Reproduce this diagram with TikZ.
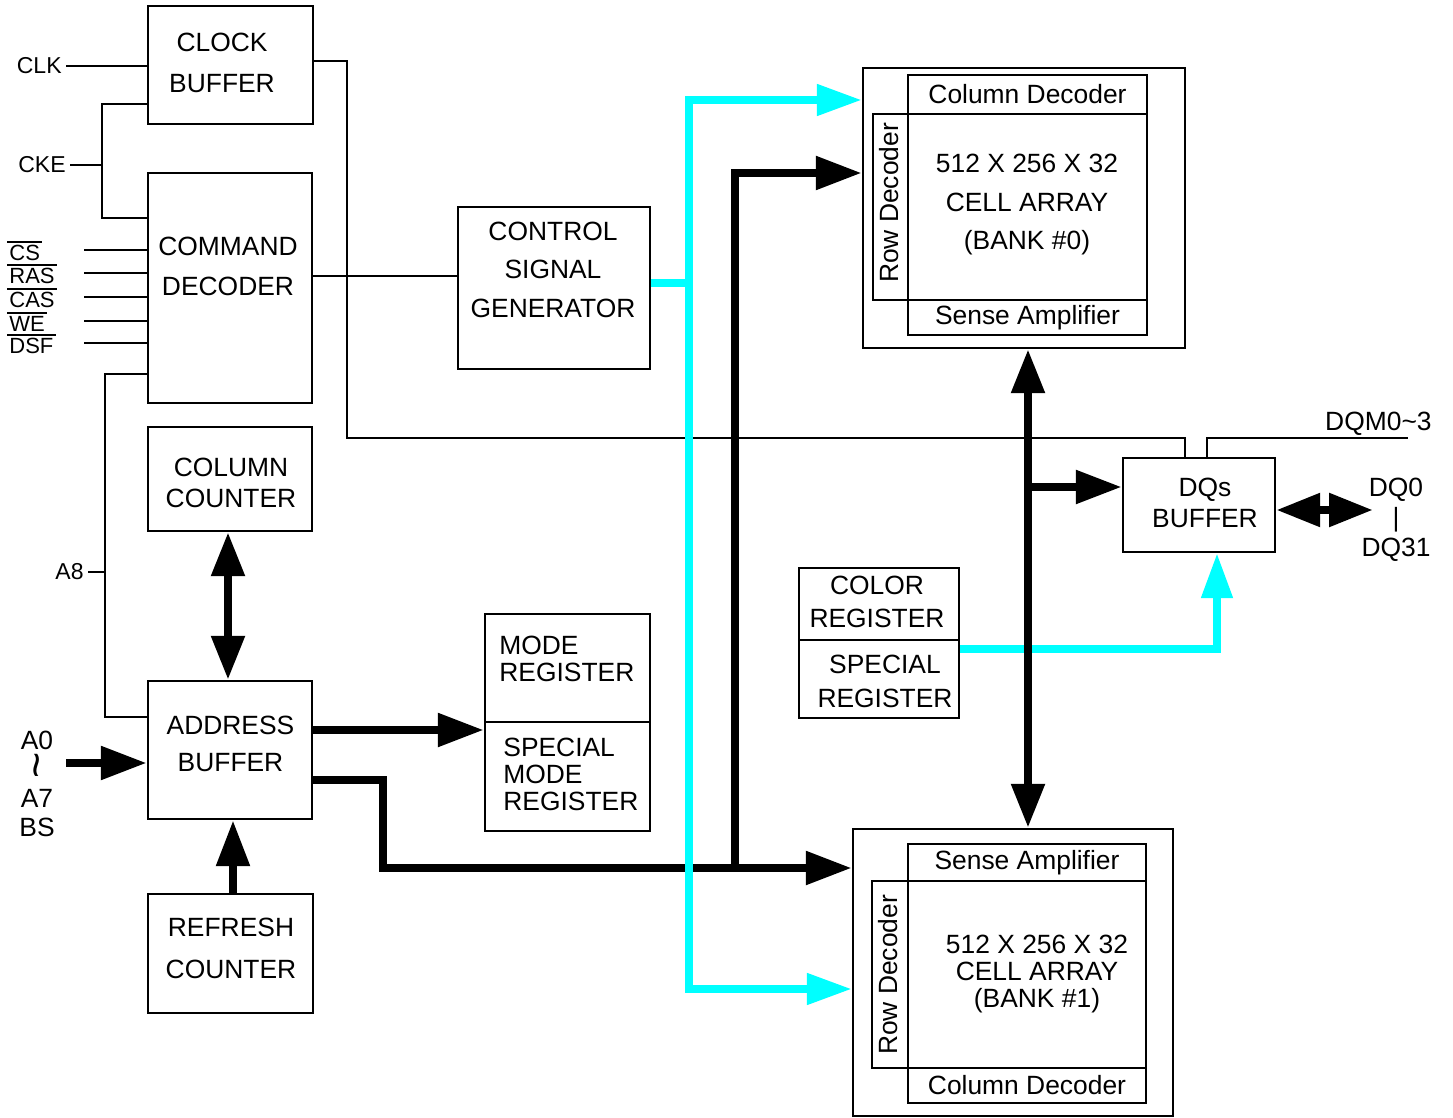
\documentclass[tikz,border=0pt]{standalone}
\usepackage{fontspec}
\setmainfont{Liberation Sans}
\usetikzlibrary{arrows.meta}
\definecolor{sigcyan}{RGB}{0,255,255}

\begin{document}
\begin{tikzpicture}[x=0.5pt,y=-0.5pt,
  blk/.style={draw,line width=1.2pt,inner sep=0pt},
  txt/.style={font=\fontsize{13.2pt}{#1}\selectfont,align=center,inner sep=0pt},
  txt/.default=16pt,
  lbl/.style={font=\fontsize{11.5pt}{14pt}\selectfont,inner sep=2pt},
  sig/.style={font=\fontsize{11pt}{12pt}\selectfont,inner sep=0pt,anchor=west},
  wire/.style={line width=1pt},
  bus/.style={line width=4.25pt,-{Triangle[length=23pt,width=16pt]}},
  dbus/.style={line width=4.25pt,{Triangle[length=22pt,width=16pt]}-{Triangle[length=22pt,width=16pt]}},
  cline/.style={line width=4pt,draw=sigcyan},
  cbus/.style={cline,-{Triangle[length=22.5pt,width=15pt]}},
  dcbus/.style={cline,{Triangle[length=22.5pt,width=15pt]}-{Triangle[length=22.5pt,width=15pt]}}]
\useasboundingbox (0,0) rectangle (1453,1118);

% Blocos da esquerda
\node[blk,minimum width=82.5pt,minimum height=59pt] (clkbuf) at (230.5,65) {};
\node[txt=20.5pt] (clkbuft) at (222,62.5) {CLOCK\\BUFFER};
\node[blk,minimum width=82pt,minimum height=115pt] (cmddec) at (230,288) {};
\node[txt=20pt] (cmddect) at (228,266) {COMMAND\\DECODER};
\node[blk,minimum width=82pt,minimum height=52pt] (colcnt) at (230,479) {};
\node[txt=15.5pt] (colcntt) at (231,482.5) {COLUMN\\COUNTER};
\node[blk,minimum width=82pt,minimum height=69pt] (addrbuf) at (230,750) {};
\node[txt=18.5pt] (addrbuft) at (230.5,743.5) {ADDRESS\\BUFFER};
\node[blk,minimum width=82.5pt,minimum height=59.5pt] (refcnt) at (230.5,953.5) {};
\node[txt=21pt] (refcntt) at (231,948) {REFRESH\\COUNTER};

% Blocos do meio
\node[blk,minimum width=96pt,minimum height=81pt] (ctrlgen) at (554,288) {};
\node[txt=19.25pt] (ctrlgent) at (553,269.5) {CONTROL\\SIGNAL\\GENERATOR};
\node[blk,minimum width=82.5pt,minimum height=54pt] (modereg) at (567.5,668) {};
\node[txt=13.5pt,align=left,anchor=west] (moderegt) at (499,658.5) {MODE\\REGISTER};
\node[blk,minimum width=82.5pt,minimum height=54.5pt] (smodereg) at (567.5,776.5) {};
\node[txt=13.5pt,align=left,anchor=west] (smoderegt) at (503,774) {SPECIAL\\MODE\\REGISTER};
\node[blk,minimum width=80pt,minimum height=36pt] (colorreg) at (879,604) {};
\node[txt=16.5pt] (colorregt) at (877,601.5) {COLOR\\REGISTER};
\node[blk,minimum width=80pt,minimum height=39pt] (specreg) at (879,679) {};
\node[txt=17pt] (specregt) at (885,681) {SPECIAL\\REGISTER};
\node[blk,minimum width=76pt,minimum height=47pt] (dqbuf) at (1199,505) {};
\node[txt=15.5pt] (dqbuft) at (1205,502.5) {DQs\\BUFFER};

% Banco 0
\node[blk,minimum width=161pt,minimum height=140pt] (bank0) at (1024,208) {};
\node[blk,txt,minimum width=119.5pt,minimum height=19.5pt] (cd0) at (1027.5,94.5) {Column Decoder};
\node[blk,minimum width=119.5pt,minimum height=93pt] (ca0) at (1027.5,207) {};
\node[txt=19.25pt] (ca0t) at (1027,205) {512 X 256 X 32\\CELL ARRAY\\(BANK \#0)};
\node[blk,txt,minimum width=119.5pt,minimum height=17.5pt] (sa0) at (1027.5,317.5) {Sense Amplifier};
\node[blk,minimum width=17.5pt,minimum height=93pt] (rd0) at (890.5,207) {};
\node[txt,rotate=90] (rd0t) at (889,203) {Row Decoder};

% Banco 1
\node[blk,minimum width=160pt,minimum height=143.5pt] (bank1) at (1013,972.5) {};
\node[blk,txt,minimum width=119pt,minimum height=18.5pt] (sa1) at (1027,862.5) {Sense Amplifier};
\node[blk,minimum width=119pt,minimum height=93.5pt] (ca1) at (1027,974.5) {};
\node[txt=13.5pt] (ca1t) at (1037,974) {512 X 256 X 32\\CELL ARRAY\\(BANK \#1)};
\node[blk,txt,minimum width=119pt,minimum height=17.5pt] (cd1) at (1027,1085.5) {Column Decoder};
\node[blk,minimum width=18pt,minimum height=93.5pt] (rd1) at (890,974.5) {};
\node[txt,rotate=90] (rd1t) at (888,975) {Row Decoder};

% Entradas
\node[lbl,anchor=east] (clk) at (66,66) {CLK};
\node[lbl,anchor=east] (cke) at (70,165) {CKE};
\node[lbl,anchor=east] (a8) at (88,572) {A8};
\node[txt=14.5pt] (addrin) at (37,784) {A0\\\kern6pt\scalebox{1.7}{\rotatebox{90}{\textasciitilde}}\\A7\\BS};
\node[txt,anchor=base east] (dqm) at (1432,431) {DQM0\textasciitilde 3};
\node[txt=15pt] (dqt) at (1396,520) {DQ0\\|\\DQ31};
\foreach \s/\y in {CS/250,RAS/273,CAS/297,WE/321,DSF/343} {
  \node[sig] (\s) at (9,\y+3) {\s};
  \draw[line width=0.9pt] ([xshift=-1pt,yshift=1.6pt]\s.north west) -- ([xshift=1pt,yshift=1.6pt]\s.north east);
  \coordinate (\s in) at (84,\y);
  \draw[wire] (\s in) -- (cmddec.west |- \s in);
}

% Fios finos
\coordinate (ckej) at (102,165);
\coordinate (a8j) at (105,572);
\coordinate (dqmj) at (1408,438);
\draw[wire] (clk) -- (clkbuf.west |- clk);
\draw[wire] (cke) -- (ckej);
\draw[wire] (clkbuf.west |- 0,104) -| (ckej) |- (cmddec.west |- 0,218);
\draw[wire] (a8) -- (a8j);
\draw[wire] (cmddec.west |- 0,374) -| (a8j) |- (addrbuf.west |- 0,717);
\draw[wire] (cmddec.east |- 0,276) -- (ctrlgen.west |- 0,276);
\draw[wire] (clkbuf.east |- 0,61) -| (347,438) -| (dqbuf.north -| 1185,0);
\draw[wire] (dqbuf.north -| 1207,0) |- (dqmj);

% Barramentos
\coordinate (ain) at (66,763);
\coordinate (busj) at (735,868);
\draw[bus] (ain) -- (addrbuf.west |- ain);
\draw[dbus] (colcnt.south -| 228,0) -- (addrbuf.north -| 228,0);
\draw[bus] (refcnt.north -| 233,0) -- (addrbuf.south -| 233,0);
\draw[bus] (addrbuf.east |- 0,730) -- (smodereg.west |- 0,730);
\draw[bus] (addrbuf.east |- 0,780) -| (383,868) -- (bank1.west |- busj);
\draw[bus] (busj) |- (bank0.west |- 0,173);

% Controle (ciano)
\coordinate (cj) at (689,283);
\draw[cline] (ctrlgen.east |- cj) -- (cj);
\draw[dcbus] (bank0.west |- 0,100) -| (689,989) -- (bank1.west |- 0,989);
\draw[cbus] (specreg.east |- 0,649) -| (dqbuf.south -| 1217,0);

% Dados
\coordinate (busk) at (1028,487);
\coordinate (dqend) at (1373,510);
\draw[dbus] (bank0.south -| busk) -- (bank1.north -| busk);
\draw[bus] (busk) -- (dqbuf.west |- busk);
\draw[dbus] (dqbuf.east |- dqend) -- (dqend);
\end{tikzpicture}
\end{document}
